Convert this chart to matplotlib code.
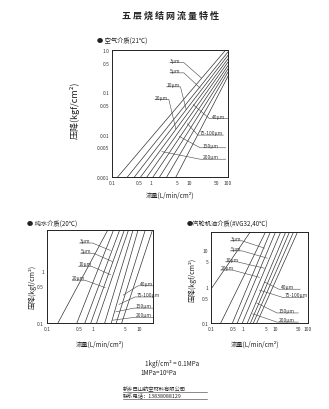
import numpy as np
import matplotlib

matplotlib.use("Agg")
import matplotlib.pyplot as plt

plt.rcParams["font.family"] = ["Noto Sans CJK SC", "DejaVu Sans"]

W, H = 329, 410

GRADES = ["3μm", "5μm", "10μm", "20μm", "40μm", "75-100μm", "150μm", "200μm"]

# ── air (21℃) ──
AIR_XLIM = (0.1, 100)
AIR_YLIM = (0.001, 1.0)
AIR_XTICKS = [0.1, 0.5, 1, 5, 10, 50, 100]
AIR_XTICKLABELS = ["0.1", "0.5", "1", "5", "10", "50", "100"]
AIR_YTICKS = [0.001, 0.005, 0.01, 0.05, 0.1, 0.5, 1.0]
AIR_YTICKLABELS = ["0.001", "0.005", "0.01", "0.05", "0.1", "0.5", "1.0"]
# each line through (x_lo, y_lo) and (x_hi, y_hi)
AIR_X_LO = [0.14, 0.25, 0.38, 0.55, 0.8, 1.15, 1.7, 2.6, 4.5]
AIR_Y_LO = [0.001] * 9
AIR_X_HI = [87, 100, 100, 100, 100, 100, 100, 100, 100]
AIR_Y_HI = [1.0, 0.9, 0.75, 0.62, 0.52, 0.43, 0.36, 0.3, 0.24]

# ── water (20℃) ──
WATER_XLIM = (0.1, 20)
WATER_YLIM = (0.1, 6)
WATER_XTICKS = [0.1, 0.5, 1, 5, 10]
WATER_XTICKLABELS = ["0.1", "0.5", "1", "5", "10"]
WATER_YTICKS = [0.1, 0.5, 1]
WATER_YTICKLABELS = ["0.1", "0.5", "1"]
WATER_X_LO = [0.175, 0.45, 0.67, 0.9, 1.2, 1.8, 2.5, 3.2, 4.2]
WATER_Y_LO = [0.1] * 9
WATER_X_HI = [2.1, 2.8, 3.8, 4.8, 5.9, 7.4, 9.5, 13.6, 19.5]
WATER_Y_HI = [6] * 9

# ── turbine oil (#VG32, 40℃) ──
OIL_XLIM = (0.1, 100)
OIL_YLIM = (0.1, 32)
OIL_XTICKS = [0.1, 0.5, 1, 5, 10, 50, 100]
OIL_XTICKLABELS = ["0.1", "0.5", "1", "5", "10", "50", "100"]
OIL_YTICKS = [0.1, 0.5, 1, 5, 10]
OIL_YTICKLABELS = ["0.1", "0.5", "1", "5", "10"]
OIL_X_LO = [0.1, 0.2, 0.46, 0.65, 0.93, 1.33, 1.66, 2.05, 2.6]
OIL_Y_LO = [0.85, 0.1, 0.1, 0.1, 0.1, 0.1, 0.1, 0.1, 0.1]
OIL_X_HI = [1.66, 4.9, 6.9, 10, 14.4, 20.6, 27, 36, 48]
OIL_Y_HI = [32] * 9


def rect(x0, y0, x1, y1):
    return [x0 / W, 1 - y1 / H, (x1 - x0) / W, (y1 - y0) / H]


def fxy(x, y):
    return x / W, 1 - y / H


def draw_lines(ax, xlim, x_lo, y_lo, x_hi, y_hi):
    lx = np.log10(np.array(xlim))
    xs = np.logspace(lx[0] - 2, lx[1] + 2, 50)
    for a, b, c, d in zip(x_lo, y_lo, x_hi, y_hi):
        k = (np.log10(d) - np.log10(b)) / (np.log10(c) - np.log10(a))
        ys = b * (xs / a) ** k
        ax.plot(xs, ys, color="#333333", lw=0.5)


def setup(ax, xlim, ylim, xt, xtl, yt, ytl):
    ax.set_xscale("log")
    ax.set_yscale("log")
    ax.set_xlim(*xlim)
    ax.set_ylim(*ylim)
    ax.set_xticks(xt)
    ax.set_xticklabels(xtl)
    ax.set_yticks(yt)
    ax.set_yticklabels(ytl)
    ax.minorticks_off()
    ax.tick_params(length=0, labelsize=3.5, pad=2, colors="#333333")
    for s in ax.spines.values():
        s.set_linewidth(0.7)
        s.set_color("#222222")


def labels(ax, left, right):
    # left-hand grades: text with a shelf line and a leader to its curve
    for txt, (tx, ty), (ex, ey) in left:
        ax.text(tx, ty, txt, transform=ax.transAxes, fontsize=3.5,
                ha="left", va="bottom", color="#333333")
        ax.plot([tx, tx + 0.12, ex], [ty, ty, ey], transform=ax.transAxes,
                color="#444444", lw=0.4)
    for txt, (tx, ty), (ex, ey) in right:
        ax.text(tx, ty, txt, transform=ax.transAxes, fontsize=3.5,
                ha="left", va="bottom", color="#333333")
        ax.plot([tx + 0.2, tx - 0.02, ex], [ty, ty, ey], transform=ax.transAxes,
                color="#444444", lw=0.4)


fig = plt.figure(figsize=(W / 100, H / 100), dpi=100)
fig.patch.set_facecolor("white")

fig.text(*fxy(171, 16), "五 层 烧 结 网 流 量 特 性", ha="center", va="center",
         fontsize=6.5, fontweight="bold", color="#222222")

# top: air
ax1 = fig.add_axes(rect(112, 51, 228, 178))
setup(ax1, AIR_XLIM, AIR_YLIM, AIR_XTICKS, AIR_XTICKLABELS, AIR_YTICKS, AIR_YTICKLABELS)
draw_lines(ax1, AIR_XLIM, AIR_X_LO, AIR_Y_LO, AIR_X_HI, AIR_Y_HI)
labels(ax1,
       [("3μm", (0.50, 0.90), (0.77, 0.78)),
        ("5μm", (0.50, 0.82), (0.76, 0.70)),
        ("10μm", (0.47, 0.71), (0.64, 0.53)),
        ("20μm", (0.37, 0.61), (0.55, 0.38))],
       [("40μm", (0.86, 0.46), (0.70, 0.57)),
        ("75-100μm", (0.76, 0.33), (0.65, 0.42)),
        ("150μm", (0.78, 0.23), (0.58, 0.32)),
        ("200μm", (0.78, 0.14), (0.43, 0.20))])
fig.text(*fxy(97, 42), "● 空气介质(21℃)", fontsize=4.5, va="center", color="#222222")
fig.text(*fxy(75, 110), "压降(kgf/cm²)", rotation=90, fontsize=6.5,
         ha="center", va="center", color="#222222")
fig.text(*fxy(170, 196), "流量(L/min/cm²)", fontsize=4.5, ha="center", va="center",
         color="#222222")

# bottom left: water
ax2 = fig.add_axes(rect(46.7, 231, 153, 324))
setup(ax2, WATER_XLIM, WATER_YLIM, WATER_XTICKS, WATER_XTICKLABELS, WATER_YTICKS,
      WATER_YTICKLABELS)
draw_lines(ax2, WATER_XLIM, WATER_X_LO, WATER_Y_LO, WATER_X_HI, WATER_Y_HI)
labels(ax2,
       [("3μm", (0.31, 0.86), (0.60, 0.78)),
        ("5μm", (0.32, 0.75), (0.62, 0.66)),
        ("10μm", (0.30, 0.61), (0.60, 0.52)),
        ("20μm", (0.24, 0.46), (0.55, 0.38))],
       [("40μm", (0.88, 0.40), (0.72, 0.30)),
        ("75-100μm", (0.85, 0.28), (0.68, 0.20)),
        ("150μm", (0.84, 0.16), (0.65, 0.12)),
        ("200μm", (0.84, 0.06), (0.62, 0.03))])
fig.text(*fxy(27, 225), "● 纯水介质(20℃)", fontsize=4.5, va="center", color="#222222")
fig.text(*fxy(33, 287), "压降(kgf/cm²)", rotation=90, fontsize=5,
         ha="center", va="center", color="#222222")
fig.text(*fxy(100, 345), "流量(L/min/cm²)", fontsize=4.5, ha="center", va="center",
         color="#222222")

# bottom right: turbine oil
ax3 = fig.add_axes(rect(211, 232.7, 308, 324))
setup(ax3, OIL_XLIM, OIL_YLIM, OIL_XTICKS, OIL_XTICKLABELS, OIL_YTICKS, OIL_YTICKLABELS)
draw_lines(ax3, OIL_XLIM, OIL_X_LO, OIL_Y_LO, OIL_X_HI, OIL_Y_HI)
labels(ax3,
       [("3μm", (0.20, 0.90), (0.55, 0.82)),
        ("5μm", (0.20, 0.79), (0.58, 0.71)),
        ("10μm", (0.15, 0.67), (0.55, 0.60)),
        ("20μm", (0.10, 0.58), (0.50, 0.50))],
       [("40μm", (0.72, 0.37), (0.55, 0.45)),
        ("75-100μm", (0.76, 0.28), (0.50, 0.36)),
        ("150μm", (0.70, 0.11), (0.47, 0.22)),
        ("200μm", (0.70, 0.01), (0.43, 0.10))])
fig.text(*fxy(187, 225), "●汽轮机油介质(#VG32,40℃)", fontsize=4.5, va="center",
         color="#222222")
fig.text(*fxy(193, 280), "压降(kgf/cm²)", rotation=90, fontsize=5,
         ha="center", va="center", color="#222222")
fig.text(*fxy(255, 345), "流量(L/min/cm²)", fontsize=4.5, ha="center", va="center",
         color="#222222")

# unit notes and contact
fig.text(*fxy(145, 364), "1kgf/cm² = 0.1MPa", fontsize=4.5, va="center", color="#222222")
fig.text(*fxy(140, 373), "1MPa=10⁶Pa", fontsize=4.5, va="center", color="#222222")
fig.text(*fxy(123, 389.5), "新乡巴山航空材料有限公司", fontsize=3.8, va="center",
         color="#222222")
fig.text(*fxy(123, 396.5), "联系电话：13838088129", fontsize=3.8, va="center",
         color="#222222")
fig.add_artist(plt.Line2D([123 / W, 207 / W], [1 - 392.8 / H] * 2, lw=0.4, color="#333333"))
fig.add_artist(plt.Line2D([123 / W, 207 / W], [1 - 399.8 / H] * 2, lw=0.4, color="#333333"))

fig.savefig("out.png", dpi=100)
